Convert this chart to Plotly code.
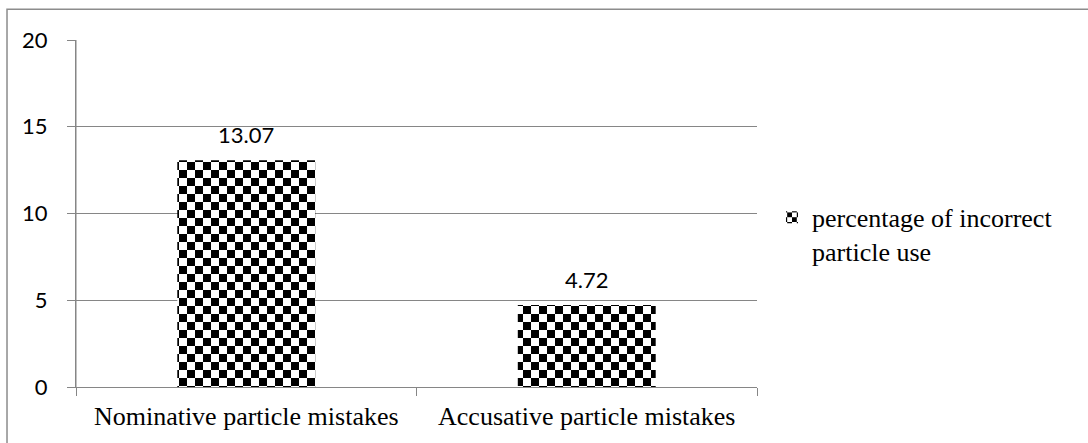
import plotly.graph_objects as go

# Particle error rates by case
categories = ["Nominative particle mistakes", "Accusative particle mistakes"]
values = [13.07, 4.72]
series_name = "percentage of incorrect<br>particle use"
y_ticks = [0, 5, 10, 15, 20]

GRID = "#868686"
SANS = "Lato, Calibri, Carlito, sans-serif"
SERIF = "Liberation Serif, Times New Roman, serif"

fig = go.Figure()
fig.add_trace(go.Bar(
    x=categories,
    y=values,
    name=series_name,
    marker=dict(
        color="black",
        line=dict(width=0),
        pattern=dict(shape="+", fgcolor="black", bgcolor="white", size=16, solidity=0.5),
    ),
    showlegend=True,
))

# value labels above each bar
for c, v in zip(categories, values):
    fig.add_annotation(
        x=c, y=v, text=f"{v:.2f}", showarrow=False,
        yanchor="bottom", yshift=10,
        font=dict(family=SANS, size=22, color="black"),
    )

# chart-area frame
fig.add_shape(
    type="rect", xref="paper", yref="paper",
    x0=-0.1013, x1=1.6, y0=-0.4, y1=1.0886,
    line=dict(color="#8c8c8c", width=1.5), fillcolor="rgba(0,0,0,0)",
)
# vertical value-axis line along the left edge of the plot area
fig.add_shape(
    type="line", xref="paper", yref="paper",
    x0=0, x1=0, y0=0, y1=1,
    line=dict(color=GRID, width=1),
)

fig.update_layout(
    width=1088, height=443,
    margin=dict(l=76, r=331, t=40, b=53),
    paper_bgcolor="white", plot_bgcolor="white",
    bargap=0.595,
    showlegend=True,
    legend=dict(
        x=1.022, y=0.44, xanchor="left", yanchor="middle",
        valign="top",
        font=dict(family=SERIF, size=26, color="black"),
        itemwidth=30, bgcolor="rgba(0,0,0,0)",
    ),
    xaxis=dict(
        showline=True, linecolor=GRID, linewidth=1,
        ticks="outside", tickson="boundaries", ticklen=8, tickcolor=GRID,
        tickfont=dict(family=SERIF, size=26, color="black"),
        ticklabelstandoff=6,
        showgrid=False,
    ),
    yaxis=dict(
        range=[0, 20], tickvals=y_ticks,
        showline=True, linecolor=GRID, linewidth=1, mirror=False,
        ticks="outside", ticklen=8, tickcolor=GRID,
        showgrid=True, gridcolor=GRID, gridwidth=1,
        zeroline=False,
        tickfont=dict(family=SANS, size=22, color="black"),
        ticklabelstandoff=15,
    ),
)

# swap the bar fill pattern for a checkerboard tile
post = """
var gd = document.getElementById('{plot_id}');
function checker(){
  var ns = 'http://www.w3.org/2000/svg';
  var legendIds = {};
  gd.querySelectorAll('.legend path').forEach(function(el){
    var st = (el.getAttribute('style') || '') + ' ' + (el.getAttribute('fill') || '');
    var m = st.match(/url\\(['"]?#([^'")]+)/);
    if (m) legendIds[m[1]] = true;
  });
  gd.querySelectorAll('pattern').forEach(function(p){
    var inLegend = !!legendIds[p.id];
    var s = inLegend ? 6 : 8;
    p.setAttribute('width', 2*s); p.setAttribute('height', 2*s);
    p.setAttribute('x', inLegend ? 0 : 7);
    p.setAttribute('y', inLegend ? 0 : 2);
    p.setAttribute('patternUnits', 'userSpaceOnUse');
    while (p.firstChild) p.removeChild(p.firstChild);
    function r(x, y, w, h, c){
      var e = document.createElementNS(ns, 'rect');
      e.setAttribute('x', x); e.setAttribute('y', y);
      e.setAttribute('width', w); e.setAttribute('height', h);
      e.setAttribute('fill', c); p.appendChild(e);
    }
    r(0, 0, 2*s, 2*s, 'white');
    r(0, 0, s, s, 'black');
    r(s, s, s, s, 'black');
  });
}
checker();
gd.on('plotly_afterplot', checker);
"""

fig.write_html("out.html", post_script=post)
